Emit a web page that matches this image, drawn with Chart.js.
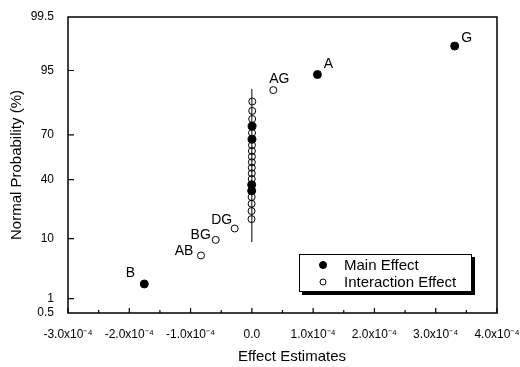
<!DOCTYPE html>
<html>
<head>
<meta charset="utf-8">
<script src="https://cdn.jsdelivr.net/npm/chart.js@4.4.1/dist/chart.umd.min.js"></script>
<style>
  html, body { margin: 0; padding: 0; background: #fff; }
  canvas { display: block; }
</style>
</head>
<body>
<canvas id="myChart" width="520" height="367"></canvas>
<script>
// effect estimates, sorted, with their normal plotting positions (%)
var effectNames = ['B', 'AB', 'BG', 'DG', '', '', '', '', '', '', '', '', '', '', '', '', '', '', '', '', '', '', '', 'AG', 'A', 'G'];
var effectType = ['main', 'int', 'int', 'int', 'int', 'int', 'int', 'int', 'main', 'main', 'int', 'int', 'int', 'int', 'int', 'int', 'int', 'main', 'int', 'main', 'int', 'int', 'int', 'int', 'main', 'main'];
var effectValues = [-1.755e-4, -0.83e-4, -0.59e-4, -0.28e-4,
    -0.006e-4, -0.005e-4, -0.004e-4, -0.004e-4, -0.003e-4, -0.003e-4, -0.002e-4, -0.001e-4, -0.001e-4, 0.0,
    0.001e-4, 0.001e-4, 0.002e-4, 0.003e-4, 0.003e-4, 0.004e-4, 0.005e-4, 0.006e-4, 0.007e-4,
    0.35e-4, 1.07e-4, 3.31e-4];
var effectProb = [1.92, 5.77, 9.62, 13.46, 17.31, 21.15, 25.00, 28.85, 32.69, 36.54, 40.38, 44.23, 48.08,
    51.92, 55.77, 59.62, 63.46, 67.31, 71.15, 75.00, 78.85, 82.69, 86.54, 90.38, 94.23, 98.08];

// reference line through the near-zero effects
var fitX = [0, 0];
var fitProb = [9.0, 90.7];

var xTicks = [-3e-4, -2e-4, -1e-4, 0, 1e-4, 2e-4, 3e-4, 4e-4];
var xTickText = ['-3.0x10\u207B\u2074', '-2.0x10\u207B\u2074', '-1.0x10\u207B\u2074', '0.0', '1.0x10\u207B\u2074', '2.0x10\u207B\u2074', '3.0x10\u207B\u2074', '4.0x10\u207B\u2074'];
var yTicks = [0.5, 1, 10, 40, 70, 95, 99.5];
var yTickText = ['0.5', '1', '10', '40', '70', '95', '99.5'];

// inverse of the standard normal cdf (Acklam)
function probit(p) {
    var a = [-3.969683028665376e+01, 2.209460984245205e+02, -2.759285104469687e+02, 1.383577518672690e+02, -3.066479806614716e+01, 2.506628277459239e+00];
    var b = [-5.447609879822406e+01, 1.615858368580409e+02, -1.556989798598866e+02, 6.680131188771972e+01, -1.328068155288572e+01];
    var c = [-7.784894002430293e-03, -3.223964580411365e-01, -2.400758277161838e+00, -2.549732539343734e+00, 4.374664141464968e+00, 2.938163982698783e+00];
    var d = [7.784695709041462e-03, 3.224671290700398e-01, 2.445134137142996e+00, 3.754408661907416e+00];
    var plow = 0.02425, q, r;
    if (p < plow) {
        q = Math.sqrt(-2 * Math.log(p));
        return (((((c[0] * q + c[1]) * q + c[2]) * q + c[3]) * q + c[4]) * q + c[5]) / ((((d[0] * q + d[1]) * q + d[2]) * q + d[3]) * q + 1);
    }
    if (p > 1 - plow) {
        q = Math.sqrt(-2 * Math.log(1 - p));
        return -(((((c[0] * q + c[1]) * q + c[2]) * q + c[3]) * q + c[4]) * q + c[5]) / ((((d[0] * q + d[1]) * q + d[2]) * q + d[3]) * q + 1);
    }
    q = p - 0.5;
    r = q * q;
    return (((((a[0] * r + a[1]) * r + a[2]) * r + a[3]) * r + a[4]) * r + a[5]) * q / (((((b[0] * r + b[1]) * r + b[2]) * r + b[3]) * r + b[4]) * r + 1);
}

var mainPts = [];
var intPts = [];
for (var i = 0; i < effectValues.length; i++) {
    var pt = { x: effectValues[i], y: probit(effectProb[i] / 100), name: effectNames[i] };
    if (effectType[i] === 'main') mainPts.push(pt); else intPts.push(pt);
}
var fitPts = fitX.map(function (x, k) { return { x: x, y: probit(fitProb[k] / 100) }; });

// where each name sits relative to its point
var labelOffsets = {
    'B': [-14, -11], 'AB': [-17, -4], 'BG': [-15, -5], 'DG': [-13, -8],
    'AG': [6, -11], 'A': [11, -10], 'G': [12, -8]
};

var FONT = '"Liberation Sans", Arial, sans-serif';

var decorPlugin = {
    id: 'decor',
    afterDatasetsDraw: function (chart) {
        var ctx = chart.ctx;
        ctx.save();
        ctx.fillStyle = '#000';
        ctx.font = '14px ' + FONT;
        ctx.textAlign = 'center';
        ctx.textBaseline = 'middle';
        [0, 1].forEach(function (di) {
            var meta = chart.getDatasetMeta(di);
            chart.data.datasets[di].data.forEach(function (d, j) {
                if (!d.name) return;
                var off = labelOffsets[d.name] || [0, -10];
                var el = meta.data[j];
                ctx.fillText(d.name, el.x + off[0], el.y + off[1]);
            });
        });
        ctx.restore();
    },
    afterDraw: function (chart) {
        var ctx = chart.ctx;
        var area = chart.chartArea;
        var xs = chart.scales.x, ys = chart.scales.y;
        ctx.save();
        ctx.strokeStyle = '#000';

        // frame
        ctx.lineWidth = 1.5;
        ctx.strokeRect(area.left, area.top, area.right - area.left, area.bottom - area.top);

        // inward tick marks
        ctx.lineWidth = 1.2;
        ctx.beginPath();
        for (var k = 0; k < xTicks.length; k++) {
            var px = xs.getPixelForValue(xTicks[k]);
            ctx.moveTo(px, area.bottom);
            ctx.lineTo(px, area.bottom - 5);
            if (k < xTicks.length - 1) {
                var mx = xs.getPixelForValue((xTicks[k] + xTicks[k + 1]) / 2);
                ctx.moveTo(mx, area.bottom);
                ctx.lineTo(mx, area.bottom - 3);
            }
        }
        for (var m = 1; m < yTicks.length - 1; m++) {
            var py = ys.getPixelForValue(probit(yTicks[m] / 100));
            ctx.moveTo(area.left, py);
            ctx.lineTo(area.left + 6, py);
        }
        ctx.stroke();

        // axis titles
        ctx.fillStyle = '#000';
        ctx.font = '15px ' + FONT;
        ctx.textAlign = 'center';
        ctx.textBaseline = 'middle';
        ctx.fillText('Effect Estimates', 292, 357);
        ctx.save();
        ctx.translate(17, (area.top + area.bottom) / 2);
        ctx.rotate(-Math.PI / 2);
        ctx.fillText('Normal Probability (%)', 0, 0);
        ctx.restore();

        // legend box with drop shadow
        var bx = 299, by = 254, bw = 172, bh = 37;
        ctx.fillStyle = '#000';
        ctx.fillRect(bx + 3, by + 3, bw + 1, bh + 1);
        ctx.fillStyle = '#fff';
        ctx.fillRect(bx, by, bw, bh);
        ctx.lineWidth = 1;
        ctx.strokeRect(bx + 0.5, by + 0.5, bw, bh);
        ctx.font = '15px ' + FONT;
        ctx.textAlign = 'left';
        [0, 1].forEach(function (di, n) {
            var ds = chart.data.datasets[di];
            var ly = by + 11 + n * 17;
            ctx.beginPath();
            ctx.arc(bx + 24, ly, ds.pointRadius - 0.5, 0, Math.PI * 2);
            ctx.fillStyle = ds.pointBackgroundColor;
            ctx.fill();
            ctx.lineWidth = ds.pointBorderWidth;
            ctx.strokeStyle = '#000';
            ctx.stroke();
            ctx.fillStyle = '#000';
            ctx.fillText(ds.label, bx + 45, ly + 1);
        });
        ctx.restore();
    }
};

const ctx = document.getElementById('myChart').getContext('2d');

const myChart = new Chart(ctx, {
    type: 'scatter',
    data: {
        datasets: [{
            label: 'Main Effect',
            data: mainPts,
            pointRadius: 4,
            pointBackgroundColor: '#000',
            pointBorderColor: '#000',
            pointBorderWidth: 1
        }, {
            label: 'Interaction Effect',
            data: intPts,
            pointRadius: 3.5,
            pointBackgroundColor: 'rgba(255,255,255,0)',
            pointBorderColor: '#000',
            pointBorderWidth: 1
        }, {
            label: 'fit',
            data: fitPts,
            showLine: true,
            borderColor: '#000',
            borderWidth: 1,
            pointRadius: 0
        }]
    },
    options: {
        responsive: false,
        animation: false,
        devicePixelRatio: 1,
        events: [],
        layout: { padding: { top: 17, right: 23, left: 0, bottom: 0 } },
        plugins: {
            legend: { display: false },
            tooltip: { enabled: false }
        },
        scales: {
            x: {
                type: 'linear',
                min: -3e-4,
                max: 4e-4,
                grid: { display: false },
                border: { display: false },
                afterBuildTicks: function (scale) {
                    scale.ticks = xTicks.map(function (v) { return { value: v }; });
                },
                afterFit: function (scale) {
                    scale.height = 54;
                    scale.paddingLeft = 0;
                    scale.paddingRight = 0;
                },
                ticks: {
                    autoSkip: false,
                    maxRotation: 0,
                    padding: 6,
                    color: '#000',
                    font: { family: FONT, size: 12 },
                    callback: function (v, idx) { return xTickText[idx]; }
                }
            },
            y: {
                type: 'linear',
                min: probit(0.005),
                max: probit(0.995),
                grid: { display: false },
                border: { display: false },
                afterBuildTicks: function (scale) {
                    scale.ticks = yTicks.map(function (p) { return { value: probit(p / 100) }; });
                },
                afterFit: function (scale) {
                    scale.width = 68;
                    scale.paddingTop = 0;
                    scale.paddingBottom = 0;
                },
                ticks: {
                    autoSkip: false,
                    padding: 6,
                    color: '#000',
                    font: { family: FONT, size: 12 },
                    callback: function (v, idx) { return yTickText[idx]; }
                }
            }
        }
    },
    plugins: [decorPlugin]
});
</script>
</body>
</html>
